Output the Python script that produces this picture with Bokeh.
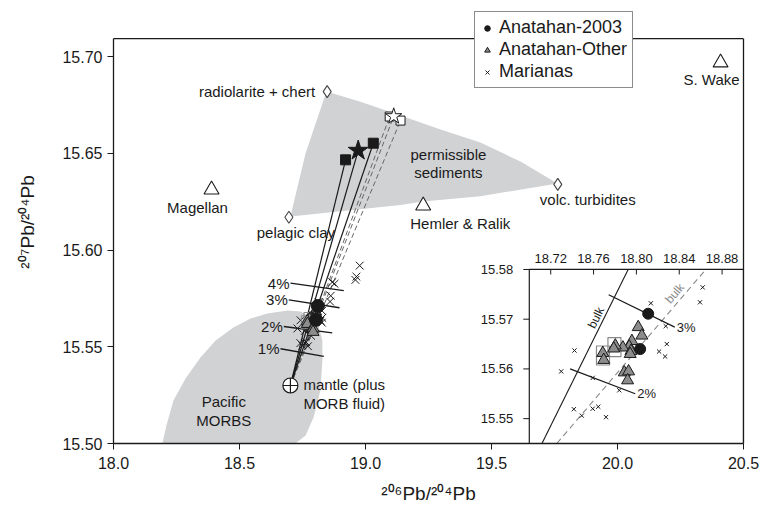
import numpy as np
from bokeh.plotting import figure
from bokeh.models import (Range1d, FixedTicker, NumeralTickFormatter, Legend, LegendItem,
                          LinearAxis)
from bokeh.core.properties import value
from bokeh.embed import file_html
from bokeh.resources import INLINE

FONT = "Liberation Sans"
INK = "#1a1a1a"
FIELD = "#d1d2d4"
TRI_FILL = "#8c8c8c"

# ---------------- data ----------------
x_ticks = [18.0, 18.5, 19.0, 19.5, 20.0, 20.5]
y_ticks = [15.50, 15.55, 15.60, 15.65, 15.70]
inset_x_ticks = [18.72, 18.76, 18.80, 18.84, 18.88]
inset_y_ticks = [15.55, 15.56, 15.57, 15.58]

anatahan_2003_x = [18.811, 18.8035]
anatahan_2003_y = [15.5711, 15.5640]

anatahan_other_x = [18.8017, 18.8051, 18.7958, 18.7933, 18.7874, 18.7949, 18.7942,
                    18.7803, 18.7788, 18.7686, 18.7695, 18.7887, 18.7927, 18.7918]
anatahan_other_y = [15.5684, 15.5667, 15.5656, 15.5645, 15.5643, 15.5636, 15.5630,
                    15.5647, 15.5641, 15.5632, 15.5618, 15.5593, 15.5595, 15.5577]

boxed_x = [18.7688, 18.7795]
boxed_y = [15.5627, 15.5644]

marianas_x = [18.8135, 18.8619, 18.8594, 18.8274, 18.8284, 18.8212, 18.8268, 18.7422,
              18.7298, 18.7592, 18.7840, 18.7416, 18.7490, 18.7592, 18.7644, 18.7716,
              18.977, 18.964, 18.960, 18.868, 18.877]
marianas_y = [15.5732, 15.5764, 15.5734, 15.5686, 15.5650, 15.5635, 15.5625, 15.5637,
              15.5595, 15.5582, 15.5557, 15.5519, 15.5506, 15.5520, 15.5524, 15.5503,
              15.592, 15.5863, 15.5846, 15.5834, 15.5826]

mantle_x = 18.702
mantle_y = 15.530

solid_end_x = [18.921, 18.971, 19.031]
solid_end_y = [15.6467, 15.6515, 15.6553]
dashed_end_x = [19.096, 19.112, 19.139]
dashed_end_y = [15.6691, 15.6692, 15.6670]

ocean_names = ["S. Wake", "Magellan", "Hemler & Ralik"]
ocean_x = [20.409, 18.389, 19.229]
ocean_y = [15.697, 15.6313, 15.623]

sediment_names = ["radiolarite + chert", "pelagic clay", "volc. turbidites"]
sediment_x = [18.848, 18.696, 19.763]
sediment_y = [15.682, 15.617, 15.634]

sed_field_x = [18.845, 18.980, 19.139, 19.298, 19.456, 19.615, 19.762,
               19.456, 19.229, 19.139, 18.702, 18.762]
sed_field_y = [15.682, 15.6768, 15.6696, 15.6624, 15.6556, 15.6458, 15.6344,
               15.6279, 15.6252, 15.6234, 15.6174, 15.650]

morb_field_x = [18.194, 18.210, 18.238, 18.286, 18.345, 18.405, 18.476, 18.544, 18.611,
                18.690, 18.742, 18.782, 18.813, 18.829, 18.829, 18.821, 18.794, 18.762, 18.722]
morb_field_y = [15.500, 15.5093, 15.5222, 15.5336, 15.5445, 15.5533, 15.560, 15.5646, 15.5672,
                15.5688, 15.5683, 15.5657, 15.561, 15.5533, 15.5429, 15.5274, 15.5134, 15.5041, 15.500]

pct_labels = ["4%", "3%", "2%", "1%"]
pct_x0 = [18.7024, 18.6956, 18.6758, 18.6627]
pct_y0 = [15.5829, 15.5743, 15.5605, 15.5490]
pct_x1 = [18.9139, 18.8968, 18.8679, 18.8345]
pct_y1 = [15.5791, 15.5702, 15.5572, 15.5451]

inset_pct_labels = ["3%", "2%"]
inset_pct_x0 = [18.7741, 18.7381]
inset_pct_y0 = [15.5749, 15.5600]
inset_pct_x1 = [18.8358, 18.7989]
inset_pct_y1 = [15.5684, 15.5550]

bulk_solid_x = [18.7118, 18.7923]
bulk_solid_y = [15.545, 15.580]
bulk_dashed_x = [18.7257, 18.8648]
bulk_dashed_y = [15.545, 15.580]

X_LIM = (18.0, 20.5)
Y_LIM = (15.5, 15.7094)
Y_VIEW_TOP = 15.7291          # frame extends to canvas top so the legend can overhang the box
INSET_XLIM = (18.70, 18.90)
INSET_YLIM = (15.545, 15.58)
INSET_AT_X = (19.65, 20.5)    # inset placement in main-axis coordinates
INSET_AT_Y = (15.50, 15.59)

# ---------------- main figure ----------------
p = figure(width=764, height=508,
           x_range=Range1d(*X_LIM), y_range=Range1d(Y_LIM[0], Y_VIEW_TOP),
           output_backend="svg", toolbar_location=None,
           min_border_left=113, min_border_right=21, min_border_top=0, min_border_bottom=65)
p.background_fill_color = "white"
p.border_fill_color = "white"
p.outline_line_color = None
p.xgrid.visible = False
p.ygrid.visible = False

for ax in (p.xaxis[0], p.yaxis[0]):
    ax.major_tick_out = 6
    ax.major_tick_in = 0
    ax.minor_tick_out = 0
    ax.minor_tick_in = 0
    ax.axis_line_color = INK
    ax.axis_line_width = 1.3
    ax.major_tick_line_color = INK
    ax.major_label_text_font = FONT
    ax.major_label_text_font_size = "16px"
    ax.major_label_text_color = INK
    ax.axis_label_text_font = FONT
    ax.axis_label_text_font_style = "normal"
    ax.axis_label_text_font_size = "19px"
    ax.axis_label_text_color = INK

p.xaxis.ticker = FixedTicker(ticks=x_ticks)
p.xaxis.formatter = NumeralTickFormatter(format="0.0")
p.yaxis.ticker = FixedTicker(ticks=y_ticks)
p.yaxis.formatter = NumeralTickFormatter(format="0.00")
p.yaxis.bounds = Y_LIM
p.xaxis.axis_label = "\u00b2\u2070\u2076Pb/\u00b2\u2070\u2074Pb"
p.yaxis.axis_label = "\u00b2\u2070\u2077Pb/\u00b2\u2070\u2074Pb"
p.xaxis.major_label_standoff = 7
p.xaxis.axis_label_standoff = 11
p.yaxis.major_label_standoff = 5
p.yaxis.axis_label_standoff = 21

# right edge of the box
right_edge = LinearAxis(ticker=FixedTicker(ticks=[]), bounds=Y_LIM, axis_line_color=INK,
                        axis_line_width=1.3, major_tick_out=0, major_tick_in=0,
                        minor_tick_out=0, minor_tick_in=0, major_label_text_font_size="0px")
p.add_layout(right_edge, "right")

# top edge of the box
p.segment(x0=[X_LIM[0]], y0=[Y_LIM[1]], x1=[X_LIM[1]], y1=[Y_LIM[1]],
          line_color=INK, line_width=1.3)

# fields
p.patch(sed_field_x, sed_field_y, fill_color=FIELD, line_color=None)
p.patch(morb_field_x, morb_field_y, fill_color=FIELD, line_color=None)

# mixing lines
n_s = len(solid_end_x)
n_d = len(dashed_end_x)
p.segment(x0=[mantle_x] * n_d, y0=[mantle_y] * n_d, x1=dashed_end_x, y1=dashed_end_y,
          line_color="#666666", line_width=1, line_dash="5 3")
p.segment(x0=[mantle_x] * n_s, y0=[mantle_y] * n_s, x1=solid_end_x, y1=solid_end_y,
          line_color=INK, line_width=1.2)

# percent lines
p.segment(x0=pct_x0, y0=pct_y0, x1=pct_x1, y1=pct_y1, line_color=INK, line_width=1.3)
p.text(x=pct_x0, y=pct_y0, text=pct_labels, text_font=value(FONT), text_font_size="15px",
       text_color=INK, text_align="right", text_baseline="middle", x_offset=-1)

# data
r_mar = p.scatter(marianas_x, marianas_y, marker="x", size=11, line_color=INK, line_width=1)
p.rect(boxed_x, boxed_y, width=12, height=13, width_units="screen", height_units="screen",
       fill_color=None, line_color="#888888", line_width=1)
r_oth = p.scatter(anatahan_other_x, anatahan_other_y, marker="triangle", size=12,
                  fill_color=TRI_FILL, line_color=INK, line_width=1)
r_03 = p.scatter(anatahan_2003_x, anatahan_2003_y, marker="circle", size=13,
                 fill_color=INK, line_color=INK)

# end members
p.scatter(dashed_end_x[:1] + dashed_end_x[2:], dashed_end_y[:1] + dashed_end_y[2:],
          marker="square", size=9, fill_color="white", line_color=INK, line_width=1)
p.scatter(dashed_end_x[1:2], dashed_end_y[1:2], marker="star", size=17,
          fill_color="white", line_color=INK, line_width=1)
p.scatter(solid_end_x[:1] + solid_end_x[2:], solid_end_y[:1] + solid_end_y[2:],
          marker="square", size=10, fill_color=INK, line_color=INK)
p.scatter(solid_end_x[1:2], solid_end_y[1:2], marker="star", size=21,
          fill_color=INK, line_color=INK)

# mantle
p.scatter([mantle_x], [mantle_y], marker="circle_cross", size=15, fill_color="white",
          line_color=INK, line_width=1.2)
p.text(x=[mantle_x], y=[mantle_y], text=["mantle (plus\nMORB fluid)"], text_font=value(FONT),
       text_font_size="15px", text_color=INK, text_align="left", text_baseline="top",
       x_offset=13, y_offset=-9, text_line_height=1.1)

# reference points
p.scatter(ocean_x, ocean_y, marker="triangle", size=15, fill_color="white",
          line_color=INK, line_width=1.1)
p.scatter(sediment_x, sediment_y, marker="diamond", size=12, fill_color="white",
          line_color="#444444", line_width=1.1)

p.text(x=[ocean_x[0]], y=[ocean_y[0]], text=[ocean_names[0]], text_font=value(FONT),
       text_font_size="15px", text_color=INK, text_align="right", text_baseline="middle",
       x_offset=19, y_offset=17)
p.text(x=[ocean_x[1]], y=[ocean_y[1]], text=[ocean_names[1]], text_font=value(FONT),
       text_font_size="15px", text_color=INK, text_align="center", text_baseline="middle",
       x_offset=-14, y_offset=18)
p.text(x=[ocean_x[2]], y=[ocean_y[2]], text=[ocean_names[2]], text_font=value(FONT),
       text_font_size="15px", text_color=INK, text_align="left", text_baseline="middle",
       x_offset=-13, y_offset=18)
p.text(x=[sediment_x[0]], y=[sediment_y[0]], text=[sediment_names[0]], text_font=value(FONT),
       text_font_size="15px", text_color=INK, text_align="right", text_baseline="middle",
       x_offset=-12, y_offset=0)
p.text(x=[sediment_x[1]], y=[sediment_y[1]], text=[sediment_names[1]], text_font=value(FONT),
       text_font_size="15px", text_color=INK, text_align="center", text_baseline="middle",
       x_offset=7, y_offset=15)
p.text(x=[sediment_x[2]], y=[sediment_y[2]], text=[sediment_names[2]], text_font=value(FONT),
       text_font_size="15px", text_color=INK, text_align="center", text_baseline="middle",
       x_offset=30, y_offset=15)

# field labels
p.text(x=[19.329], y=[15.6448], text=["permissible\nsediments"], text_font=value(FONT),
       text_font_size="15px", text_color=INK, text_align="center", text_baseline="middle",
       text_line_height=1.1)
p.text(x=[18.4377], y=[15.5168], text=["Pacific\nMORBS"], text_font=value(FONT),
       text_font_size="15px", text_color=INK, text_align="center", text_baseline="middle",
       text_line_height=1.15)

# ---------------- inset ----------------
sub = p.subplot(x_source=Range1d(*INSET_XLIM), y_source=Range1d(*INSET_YLIM),
                x_target=Range1d(*INSET_AT_X), y_target=Range1d(*INSET_AT_Y))
sub.quad(left=[INSET_XLIM[0]], right=[INSET_XLIM[1]], bottom=[INSET_YLIM[0]], top=[INSET_YLIM[1]],
         fill_color="white", line_color=INK, line_width=1.2)
sub.ray(x=[INSET_XLIM[0]] * len(inset_y_ticks), y=inset_y_ticks, length=6, length_units="screen",
        angle=np.pi, line_color=INK, line_width=1)
sub.ray(x=inset_x_ticks, y=[INSET_YLIM[1]] * len(inset_x_ticks), length=5, length_units="screen",
        angle=-np.pi / 2, line_color=INK, line_width=1)
sub.text(x=[INSET_XLIM[0]] * len(inset_y_ticks), y=inset_y_ticks,
         text=[f"{v:.2f}" for v in inset_y_ticks], text_font=value(FONT), text_font_size="13px",
         text_color=INK, text_align="right", text_baseline="middle", x_offset=-16)
sub.text(x=inset_x_ticks, y=[INSET_YLIM[1]] * len(inset_x_ticks),
         text=[f"{v:.2f}" for v in inset_x_ticks], text_font=value(FONT), text_font_size="13px",
         text_color=INK, text_align="center", text_baseline="bottom", y_offset=-6)

sub.line(bulk_solid_x, bulk_solid_y, line_color=INK, line_width=1.1)
sub.line(bulk_dashed_x, bulk_dashed_y, line_color="#888888", line_width=1.1, line_dash="6 4")
sub.text(x=[18.7623], y=[15.5703], text=["bulk"], angle=1.11, text_font=value(FONT),
         text_font_size="12px", text_color=INK, text_align="center", text_baseline="middle")
sub.text(x=[18.8358], y=[15.5752], text=["bulk"], angle=0.86, text_font=value(FONT),
         text_font_size="12px", text_color="#888888", text_align="center", text_baseline="middle")

sub.segment(x0=inset_pct_x0, y0=inset_pct_y0, x1=inset_pct_x1, y1=inset_pct_y1,
            line_color=INK, line_width=1.2)
sub.text(x=inset_pct_x1, y=inset_pct_y1, text=inset_pct_labels, text_font=value(FONT),
         text_font_size="13px", text_color=INK, text_align="left", text_baseline="middle",
         x_offset=2)

mx = np.array(marianas_x)
my = np.array(marianas_y)
inside = (mx > INSET_XLIM[0]) & (mx < INSET_XLIM[1]) & (my > INSET_YLIM[0]) & (my < INSET_YLIM[1])
sub.scatter(mx[inside], my[inside], marker="x", size=6, line_color=INK, line_width=1)
sub.rect(boxed_x, boxed_y, width=13, height=19, width_units="screen", height_units="screen",
         fill_color=None, line_color="#888888", line_width=1.2)
sub.scatter(anatahan_other_x, anatahan_other_y, marker="triangle", size=12,
            fill_color=TRI_FILL, line_color=INK, line_width=1)
sub.scatter(anatahan_2003_x, anatahan_2003_y, marker="circle", size=11,
            fill_color=INK, line_color=INK)

# ---------------- legend ----------------
legend = Legend(items=[LegendItem(label="Anatahan-2003", renderers=[r_03]),
                       LegendItem(label="Anatahan-Other", renderers=[r_oth]),
                       LegendItem(label="Marianas", renderers=[r_mar])],
                location=(361, 355), orientation="vertical",
                label_text_font=FONT, label_text_font_size="18px", label_text_color=INK,
                glyph_width=14, glyph_height=20, label_height=20, label_standoff=5,
                padding=5, spacing=1, margin=0,
                border_line_color=INK, border_line_width=1.2,
                background_fill_color="white", background_fill_alpha=1.0)
p.add_layout(legend)

open("out.html", "w").write(file_html(p, INLINE))
